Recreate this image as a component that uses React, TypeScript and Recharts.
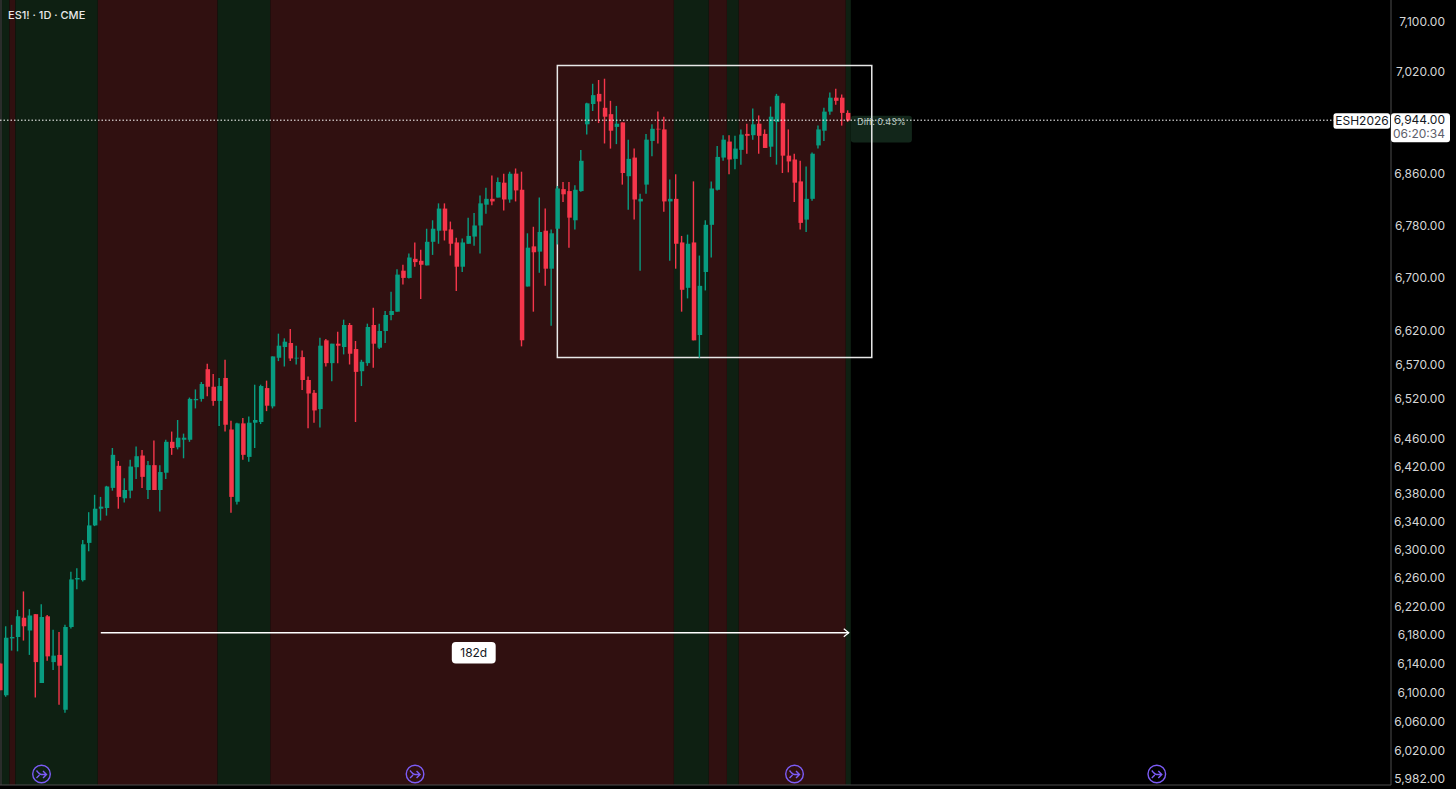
import React from 'react';
import { ComposedChart, Bar, Cell, XAxis, YAxis, ReferenceArea, ReferenceLine, ReferenceDot } from 'recharts';

const opens = [
  6139, 6095, 6174, 6176, 6203, 6185, 6208, 6112, 6205, 6141,
  6151, 6075, 6190, 6257, 6256, 6309, 6334, 6358, 6359, 6388,
  6420, 6373, 6384, 6418, 6435, 6385, 6421, 6385, 6410, 6455,
  6447, 6458, 6458, 6516, 6518, 6562, 6536, 6515, 6549, 6473,
  6368, 6482, 6433, 6483, 6484, 6534, 6507, 6579, 6595, 6601,
  6578, 6580, 6546, 6527, 6503, 6605, 6571, 6600, 6595, 6628,
  6592, 6559, 6571, 6628, 6594, 6619, 6643, 6648, 6710, 6699,
  6728, 6725, 6718, 6754, 6771, 6805, 6773, 6753, 6716, 6751,
  6762, 6779, 6811, 6820, 6822, 6845, 6819, 6859, 6834, 6686,
  6747, 6739, 6771, 6713, 6774, 6835, 6832, 6787, 6832, 6936,
  6968, 6984, 6962, 6952, 6932, 6939, 6855, 6884, 6816, 6842,
  6910, 6929, 6928, 6816, 6820, 6753, 6684, 6753, 6613, 6708,
  6780, 6834, 6884, 6909, 6882, 6896, 6921, 6919, 6937, 6921,
  6901, 6940, 6969, 6887, 6881, 6847, 6788, 6820, 6903, 6926,
  6956, 6978, 6978, 6954,
];
const highs = [
  6140, 6191, 6193, 6214, 6240, 6215, 6208, 6222, 6207, 6186,
  6183, 6193, 6268, 6273, 6313, 6353, 6378, 6375, 6391, 6446,
  6427, 6402, 6429, 6448, 6443, 6427, 6457, 6421, 6458, 6470,
  6487, 6467, 6520, 6532, 6543, 6570, 6555, 6549, 6576, 6486,
  6483, 6490, 6492, 6539, 6539, 6545, 6581, 6615, 6608, 6622,
  6597, 6590, 6551, 6531, 6609, 6607, 6600, 6618, 6636, 6631,
  6604, 6576, 6630, 6654, 6630, 6649, 6678, 6712, 6719, 6736,
  6753, 6742, 6774, 6787, 6813, 6813, 6785, 6760, 6759, 6791,
  6798, 6825, 6837, 6856, 6853, 6859, 6862, 6867, 6862, 6767,
  6777, 6822, 6805, 6773, 6840, 6846, 6846, 6841, 6896, 6970,
  7000, 7006, 7008, 6973, 6965, 6939, 6912, 6898, 6828, 6921,
  6936, 6956, 6948, 6850, 6858, 6763, 6765, 6847, 6733, 6787,
  6847, 6902, 6919, 6919, 6918, 6928, 6937, 6961, 6950, 6928,
  6964, 6984, 6970, 6928, 6890, 6879, 6870, 6892, 6934, 6962,
  6986, 6992, 6983, 6958,
];
const lows = [
  6102, 6093, 6157, 6156, 6171, 6151, 6092, 6112, 6143, 6130,
  6082, 6071, 6188, 6243, 6254, 6297, 6333, 6341, 6348, 6384,
  6358, 6367, 6373, 6401, 6388, 6372, 6385, 6354, 6401, 6436,
  6444, 6431, 6455, 6504, 6514, 6522, 6508, 6478, 6470, 6352,
  6364, 6429, 6426, 6446, 6481, 6500, 6504, 6574, 6566, 6574,
  6569, 6531, 6475, 6483, 6476, 6566, 6544, 6571, 6584, 6569,
  6484, 6537, 6567, 6564, 6592, 6601, 6635, 6648, 6689, 6698,
  6716, 6667, 6718, 6734, 6751, 6756, 6733, 6679, 6708, 6751,
  6748, 6736, 6797, 6810, 6822, 6802, 6814, 6816, 6596, 6686,
  6648, 6707, 6687, 6627, 6750, 6815, 6745, 6773, 6831, 6920,
  6957, 6938, 6906, 6898, 6905, 6842, 6803, 6788, 6710, 6828,
  6886, 6906, 6800, 6725, 6713, 6648, 6668, 6605, 6579, 6680,
  6730, 6833, 6879, 6858, 6866, 6873, 6890, 6912, 6890, 6899,
  6885, 6873, 6860, 6861, 6815, 6773, 6769, 6817, 6898, 6910,
  6951, 6967, 6934, 6940,
];
const closes = [
  6102, 6175, 6176, 6205, 6191, 6206, 6141, 6204, 6149, 6150,
  6136, 6190, 6257, 6259, 6307, 6334, 6358, 6361, 6390, 6436,
  6375, 6385, 6419, 6434, 6404, 6421, 6385, 6411, 6455, 6446,
  6461, 6461, 6518, 6518, 6540, 6536, 6515, 6537, 6480, 6375,
  6482, 6436, 6483, 6487, 6537, 6508, 6581, 6597, 6603, 6578,
  6579, 6546, 6526, 6501, 6597, 6571, 6600, 6597, 6628, 6585,
  6558, 6573, 6625, 6600, 6619, 6643, 6649, 6704, 6699, 6730,
  6723, 6719, 6754, 6774, 6805, 6771, 6751, 6716, 6753, 6763,
  6779, 6813, 6820, 6816, 6846, 6819, 6859, 6833, 6605, 6745,
  6738, 6769, 6713, 6767, 6836, 6827, 6791, 6834, 6879, 6969,
  6982, 6972, 6948, 6926, 6937, 6860, 6882, 6819, 6820, 6912,
  6929, 6928, 6816, 6820, 6751, 6681, 6751, 6605, 6687, 6780,
  6836, 6885, 6912, 6881, 6898, 6920, 6918, 6936, 6918, 6899,
  6948, 6981, 6887, 6878, 6845, 6783, 6820, 6890, 6928, 6956,
  6978, 6973, 6954, 6942,
];

// regime bands, in bar numbers: [from, to, colour]
const bands: [number, number, string][] = [
  [0, 0.34, '#2a2d2b'],
  [0.34, 1.6, '#0e2012'],
  [1.6, 2.6, '#301010'],
  [2.6, 16.5, '#0e2012'],
  [16.5, 36.7, '#301010'],
  [36.7, 45.6, '#0e2012'],
  [45.6, 113.65, '#301010'],
  [113.65, 119.55, '#0e2012'],
  [119.55, 122.6, '#301010'],
  [122.6, 124.6, '#0e2012'],
  [124.6, 142.65, '#301010'],
  [142.65, 143.5, '#0e2012'],
];

const priceTicks = [
  7100, 7020, 6944, 6860, 6780, 6700, 6620, 6570, 6520, 6460, 6420, 6380, 6340,
  6300, 6260, 6220, 6180, 6140, 6100, 6060, 6020, 5982,
];
const lastPrice = 6944;
const priceLine = 6942.5; // dotted line sits a touch under the tick in the picture
const eventBars = [7, 70, 134, 195.1];

const UP = '#089c80';
const DOWN = '#f6364b';
const AXIS = '#4c4c4c';
const FONT = 'Inter, "Noto Sans", sans-serif';

const candles = opens.map((open, i) => ({
  i,
  wick: [lows[i], highs[i]],
  body: [Math.min(open, closes[i]), Math.max(open, closes[i])],
  up: closes[i] >= open,
}));

const fmt = (v: number) => v.toLocaleString('en-US', { minimumFractionDigits: 2, maximumFractionDigits: 2 });

const PriceTick = ({ x, y, payload }: any) => {
  if (payload.value === lastPrice) {
    return (
      <g fontFamily={FONT} fontSize={12}>
        <rect x={x - 57.5} y={y - 6} width={56.5} height={15.5} rx={2.5} fill="#fff" />
        <text x={x - 29} y={y + 6} textAnchor="middle" fill="#131722">ESH2026</text>
        <rect x={x} y={y - 6} width={59} height={29} rx={3} fill="#fff" />
        <text x={x + 54} y={y + 5} textAnchor="end" fill="#131722">{fmt(lastPrice)}</text>
        <text x={x + 54} y={y + 19} textAnchor="end" fill="#5d606b">06:20:34</text>
      </g>
    );
  }
  return (
    <text x={x + 54} y={y + 5} textAnchor="end" fontFamily={FONT} fontSize={12} fill="#d6d6d6">
      {fmt(payload.value)}
    </text>
  );
};

const EventIcon = ({ cx, cy }: any) => (
  <g fill="none" stroke="#7c5cf6" strokeWidth={1.4}>
    <circle cx={cx} cy={cy} r={8.8} />
    <path d={`M${cx - 5} ${cy - 3.5}Q${cx - 2} ${cy + 0.5} ${cx} ${cy + 0.5}H${cx + 5}M${cx + 1.5} ${cy - 3}L${cx + 5} ${cy + 0.5}L${cx + 1.5} ${cy + 4}M${cx - 5} ${cy + 4}L${cx - 2} ${cy + 1}`} />
  </g>
);

const ArrowHead = ({ cx, cy }: any) => (
  <path d={`M${cx - 5} ${cy - 4}L${cx} ${cy}L${cx - 5} ${cy + 4}`} fill="none" stroke="#fff" strokeWidth={1.2} />
);

export default function App() {
  return (
    <div style={{ position: 'fixed', left: 0, top: 0, width: 1456, height: 789, background: '#000', overflow: 'hidden' }}>
      <ComposedChart
        width={1456}
        height={789}
        data={candles}
        margin={{ top: 0, right: 0, bottom: 0, left: 0 }}
        barGap={0}
      >
        <XAxis xAxisId="body" dataKey="i" type="number" domain={[0, 234.6]} allowDataOverflow height={4} tick={false} tickLine={false} axisLine={{ stroke: AXIS }} />
        <XAxis xAxisId="wick" dataKey="i" type="number" domain={[0, 234.6]} allowDataOverflow hide />
        <YAxis
          orientation="right"
          scale="log"
          domain={[5972.5, 7134]}
          allowDataOverflow
          width={65}
          ticks={priceTicks}
          interval={0}
          tickLine={false}
          tickSize={0}
          tickMargin={0}
          axisLine={{ stroke: AXIS }}
          tick={<PriceTick />}
        />

        {bands.map(([from, to, colour]) => (
          <ReferenceArea key={from} xAxisId="body" x1={from} x2={to} fill={colour} fillOpacity={1} stroke="none" />
        ))}

        <Bar xAxisId="wick" dataKey="wick" barSize={1.4} isAnimationActive={false}>
          {candles.map((c) => <Cell key={c.i} fill={c.up ? UP : DOWN} />)}
        </Bar>
        <Bar xAxisId="body" dataKey="body" barSize={4.5} isAnimationActive={false}>
          {candles.map((c) => <Cell key={c.i} fill={c.up ? UP : DOWN} />)}
        </Bar>

        <ReferenceArea
          xAxisId="body"
          x1={143.5}
          x2={153.8}
          y1={6907.5}
          y2={6949.5}
          fill="#12261a"
          fillOpacity={1}
          stroke="none"
          radius={3}
          label={{ value: 'Diff: 0.43%', position: 'insideTop', offset: 3, fill: '#bcc8c0', fontSize: 9, fontFamily: FONT }}
        />
        <ReferenceArea xAxisId="body" x1={94} x2={147.03} y1={6579.5} y2={7029} fill="none" stroke="#e8e8e8" strokeWidth={1.5} />
        <ReferenceLine
          xAxisId="body"
          segment={[{ x: 0, y: priceLine }, { x: 225.2, y: priceLine }]}
          stroke="#fff"
          strokeWidth={1}
          strokeDasharray="1.5 2"
        />

        <ReferenceLine xAxisId="body" segment={[{ x: 17, y: 6182 }, { x: 143.15, y: 6182 }]} stroke="#fff" strokeWidth={1.5} />
        <ReferenceDot xAxisId="body" x={143.15} y={6182} shape={<ArrowHead />} />
        <ReferenceArea
          xAxisId="body"
          x1={76.2}
          x2={83.6}
          y1={6139}
          y2={6169}
          fill="#fff"
          fillOpacity={1}
          stroke="none"
          radius={4}
          label={{ value: '182d', position: 'center', fill: '#131722', fontSize: 12, fontFamily: FONT }}
        />

        {eventBars.map((b) => (
          <ReferenceDot key={b} xAxisId="body" x={b} y={5987.4} shape={<EventIcon />} />
        ))}
      </ComposedChart>
      <div style={{ position: 'absolute', left: 8, top: 8, font: `500 11px ${FONT}`, color: '#e8e8e8' }}>ES1! · 1D · CME</div>
    </div>
  );
}
